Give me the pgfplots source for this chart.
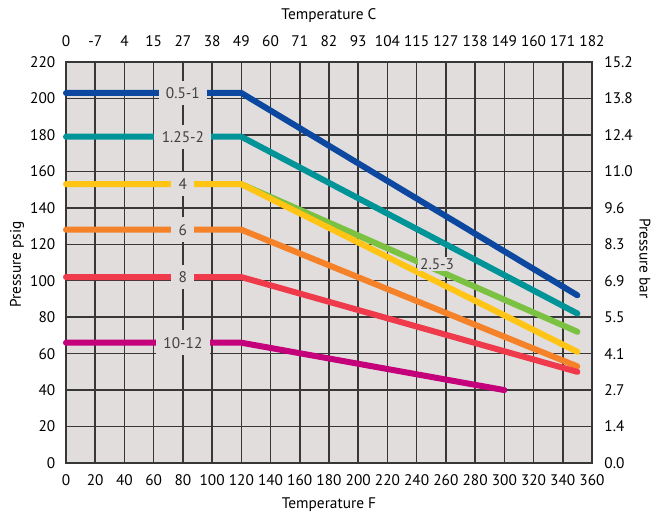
\documentclass[border=0pt]{standalone}
\usepackage{fontspec}
\setmainfont{PT Sans}
\usepackage{pgfplots}
\pgfplotsset{compat=1.18}

\definecolor{bg}{RGB}{224,221,220}
\definecolor{gridc}{RGB}{55,55,55}
\definecolor{cblue}{RGB}{13,72,160}
\definecolor{cteal}{RGB}{0,148,152}
\definecolor{cgreen}{RGB}{124,194,66}
\definecolor{cyellow}{RGB}{255,196,20}
\definecolor{corange}{RGB}{245,130,40}
\definecolor{cred}{RGB}{238,58,74}
\definecolor{cmag}{RGB}{196,0,122}

\begin{document}
\fontsize{11.5}{13}\selectfont
\begin{tikzpicture}
  % page = reference frame, 1px = 0.75pt
  \useasboundingbox (-49.5pt,-38.25pt) rectangle (449.25pt,347.25pt);

  \pgfplotsset{
    base/.style={
      scale only axis, width=394.5pt, height=300.75pt,
      xmin=0, xmax=360, ymin=0, ymax=220,
      xtick={0,20,...,360}, ytick={0,20,...,220},
      major tick length=0pt,
      /pgf/number format/assume math mode=true,
      tick label style={font=\fontsize{11.5}{13}\selectfont},
    },
  }

  \begin{axis}[
    base,
    axis background/.style={fill=bg},
    axis line style={gridc, line width=1.1pt},
    grid=major,
    major grid style={gridc, line width=1.1pt},
    xticklabel style={yshift=-5pt},
    yticklabel style={xshift=-4pt},
    every axis plot/.append style={line width=4.5pt, line cap=round, line join=round},
    clip=false,
  ]
    \addplot[cblue]   coordinates {(0,203) (120,203) (350,92)};
    \addplot[cteal]   coordinates {(0,179) (120,179) (350,82)};
    \addplot[cgreen]  coordinates {(120,153) (350,72)};
    \addplot[cyellow] coordinates {(0,153) (120,153) (350,61)};
    \addplot[corange] coordinates {(0,128) (120,128) (350,53)};
    \addplot[cred]    coordinates {(0,102) (120,102) (350,50)};
    \addplot[cmag]    coordinates {(0,66) (120,66) (300,40)};

    \begin{scope}[every node/.style={fill=bg, inner xsep=5.5pt, inner ysep=5pt, text=black!75}]
      \node at (axis cs:80,203) {0.5-1};
      \node at (axis cs:80,179) {1.25-2};
      \node at (axis cs:80,153) {4};
      \node at (axis cs:80,128) {6};
      \node at (axis cs:80,102) {8};
      \node at (axis cs:80,66) {10-12};
      \node[inner xsep=2pt, inner ysep=1pt] at (axis cs:254,109) {2.5-3};
    \end{scope}

    \node at ([yshift=34.5pt]axis description cs:0.5,1) {Temperature C};
    \node at ([yshift=-31.5pt]axis description cs:0.5,0) {Temperature F};
    \node[rotate=90] at ([xshift=-36.75pt]axis description cs:0,0.495) {Pressure psig};
    \node[rotate=-90] at ([xshift=39.75pt]axis description cs:1,0.51) {Pressure bar};
  \end{axis}

  \begin{axis}[
    base,
    axis line style={draw=none},
    xticklabel pos=top, yticklabel pos=right,
    xticklabels={0,-7,4,15,27,38,49,60,71,82,93,104,115,127,138,149,160,171,182},
    yticklabels={0.0,1.4,2.7,4.1,5.5,6.9,8.3,9.6,11.0,12.4,13.8,15.2},
    xticklabel style={yshift=7.4pt},
    yticklabel style={xshift=5.3pt},
  ]
    \addplot[draw=none] coordinates {(0,0) (360,220)};
  \end{axis}
\end{tikzpicture}
\end{document}
